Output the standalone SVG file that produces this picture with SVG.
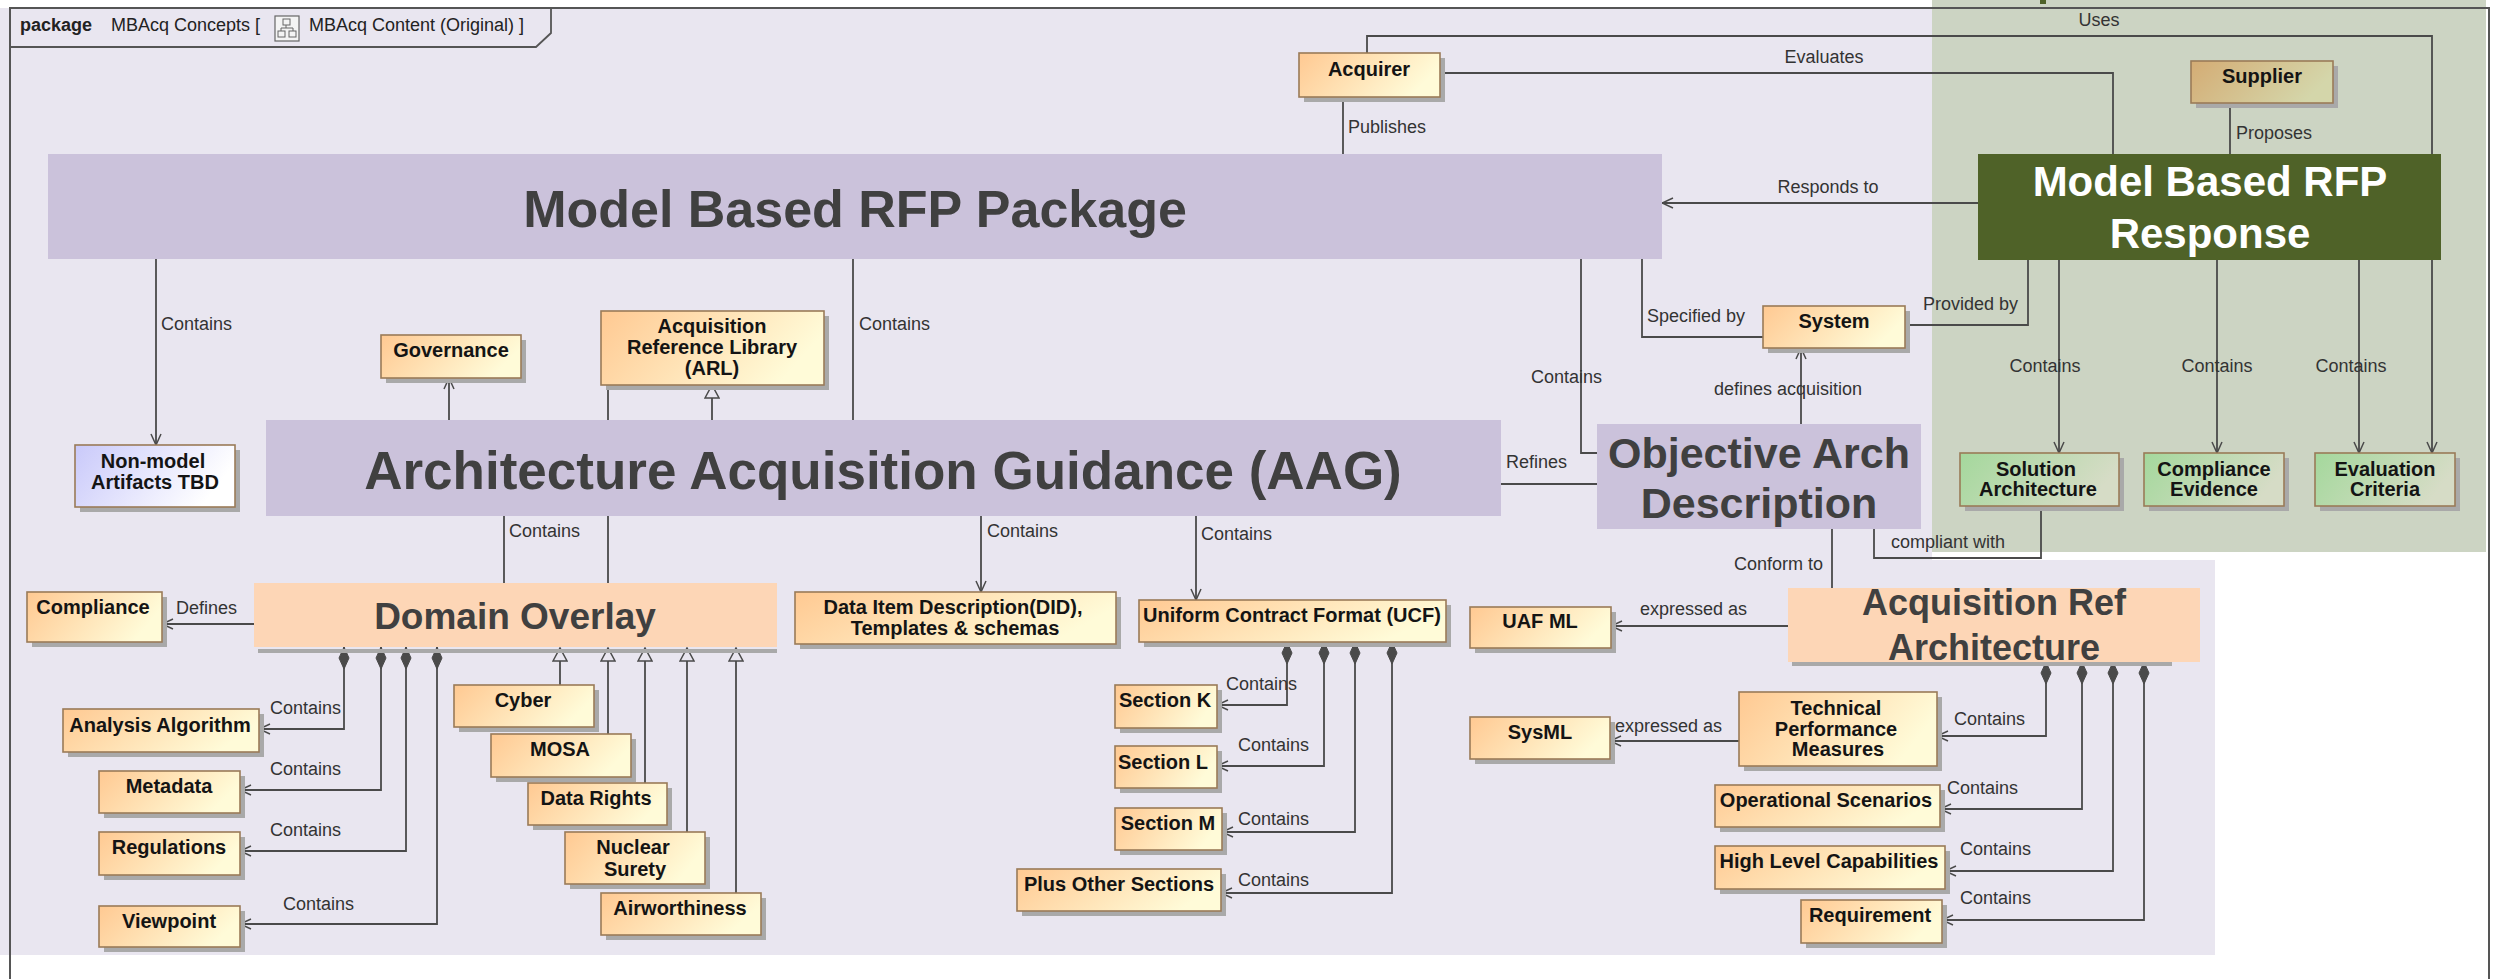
<svg xmlns="http://www.w3.org/2000/svg" width="2493" height="979" viewBox="0 0 2493 979">
<defs>
<linearGradient id="gOr" x1="0" y1="0" x2="1" y2="0.3"><stop offset="0" stop-color="#FFC992"/><stop offset="1" stop-color="#FFFBD8"/></linearGradient>
<linearGradient id="gGr" x1="0" y1="0" x2="1" y2="0.3"><stop offset="0" stop-color="#A4D89C"/><stop offset="1" stop-color="#D6DCC6"/></linearGradient>
<linearGradient id="gSu" x1="0" y1="0" x2="1" y2="0.3"><stop offset="0" stop-color="#D4AC74"/><stop offset="1" stop-color="#D4D6AA"/></linearGradient>
<linearGradient id="gBl" x1="0" y1="0" x2="1" y2="0.3"><stop offset="0" stop-color="#C9C9FA"/><stop offset="1" stop-color="#FFFFFF"/></linearGradient>
<marker id="arr" markerUnits="userSpaceOnUse" viewBox="-1 -6 13 12" refX="11" refY="0" markerWidth="13" markerHeight="12" orient="auto"><path d="M0,-5 L11,0 L0,5" fill="none" stroke="#4A4A4A" stroke-width="1.5"/></marker>
<marker id="tri" markerUnits="userSpaceOnUse" viewBox="-1 -8 15 16" refX="13" refY="0" markerWidth="15" markerHeight="16" orient="auto"><path d="M0,-7 L13,0 L0,7 Z" fill="#E9E6F0" stroke="#4A4A4A" stroke-width="1.5"/></marker>
<marker id="dia" markerUnits="userSpaceOnUse" viewBox="-1 -7 25 14" refX="0" refY="0" markerWidth="25" markerHeight="14" orient="auto"><path d="M0,0 L11,-5 L22,0 L11,5 Z" fill="#4A4A4A" stroke="#4A4A4A" stroke-width="1"/></marker>
</defs>
<style>
.edge{fill:none;stroke:#4A4A4A;stroke-width:1.8}
.sh{fill:#A9A9A9}
.bx{stroke:#9A7B58;stroke-width:1.6}
.nt{font-family:"Liberation Sans",Arial,sans-serif;font-weight:bold;font-size:20px;fill:#141414;text-anchor:middle}
.lbl{font-family:"Liberation Sans",Arial,sans-serif;font-size:18px;fill:#333}
.big{font-family:"Liberation Sans",Arial,sans-serif;font-weight:bold;fill:#404040;text-anchor:middle}
.hdr{font-family:"Liberation Sans",Arial,sans-serif;font-size:18px;fill:#222}
</style>
<rect x="0" y="0" width="2493" height="979" fill="#FFFFFF"/>
<g id="backgrounds">
<rect x="0" y="8" width="1932" height="947" fill="#E9E6F0"/>
<rect x="1932" y="560" width="283" height="395" fill="#E9E6F0"/>
<rect x="1932" y="0" width="554" height="552" fill="#CCD4C3"/>
<rect x="2040" y="0" width="6" height="4" fill="#4F6228"/>
</g>
<g id="frame">
<rect x="10" y="8" width="2479" height="1000" fill="none" stroke="#555" stroke-width="2"/>
<path d="M10,47 H536 L551,33 V8" fill="none" stroke="#555" stroke-width="1.8"/>
<text x="20" y="31" class="hdr" font-weight="bold">package</text>
<text x="111" y="31" class="hdr">MBAcq Concepts [</text>
<rect x="275" y="16" width="24" height="25" fill="#F4F4F4" stroke="#666" stroke-width="1.2"/>
<rect x="283" y="19" width="7" height="6" fill="none" stroke="#666" stroke-width="1"/>
<rect x="278" y="31" width="7" height="6" fill="none" stroke="#666" stroke-width="1"/>
<rect x="289" y="31" width="7" height="6" fill="none" stroke="#666" stroke-width="1"/>
<path d="M286,25 V28 M281,28 H293 M281,28 V31 M293,28 V31" stroke="#666" stroke-width="1" fill="none"/>
<text x="309" y="31" class="hdr">MBAcq Content (Original) ]</text>
</g>
<g id="connectors">
<path class="edge" d="M1343,97 V154"/>
<path class="edge" d="M1367,53 V36 H2432 V453" marker-end="url(#arr)"/>
<path class="edge" d="M1440,73 H2113 V154"/>
<path class="edge" d="M2230,103 V154"/>
<path class="edge" d="M1978,203 H1662" marker-end="url(#arr)"/>
<path class="edge" d="M1642,259 V337 H1763"/>
<path class="edge" d="M2028,260 V325 H1905"/>
<path class="edge" d="M1801,424 V348" marker-end="url(#arr)"/>
<path class="edge" d="M1581,259 V453 H1597"/>
<path class="edge" d="M1501,484 H1597"/>
<path class="edge" d="M1832,529 V588"/>
<path class="edge" d="M2041,506 V558 H1874 V529"/>
<path class="edge" d="M2059,260 V453" marker-end="url(#arr)"/>
<path class="edge" d="M2217,260 V453" marker-end="url(#arr)"/>
<path class="edge" d="M2359,260 V453" marker-end="url(#arr)"/>
<path class="edge" d="M156,259 V445" marker-end="url(#arr)"/>
<path class="edge" d="M853,259 V420"/>
<path class="edge" d="M449,420 V378" marker-end="url(#arr)"/>
<path class="edge" d="M712,420 V385" marker-end="url(#tri)"/>
<path class="edge" d="M608,385 V420 M608,516 V583"/>
<path class="edge" d="M504,516 V583"/>
<path class="edge" d="M981,516 V592" marker-end="url(#arr)"/>
<path class="edge" d="M1196,516 V600" marker-end="url(#arr)"/>
<path class="edge" d="M254,624 H162" marker-end="url(#arr)"/>
<path class="edge" d="M344,647 V729 H259" marker-start="url(#dia)" marker-end="url(#arr)"/>
<path class="edge" d="M381,647 V790 H240" marker-start="url(#dia)" marker-end="url(#arr)"/>
<path class="edge" d="M406,647 V851 H240" marker-start="url(#dia)" marker-end="url(#arr)"/>
<path class="edge" d="M437,647 V924 H240" marker-start="url(#dia)" marker-end="url(#arr)"/>
<path class="edge" d="M560,685 V648" marker-end="url(#tri)"/>
<path class="edge" d="M608,734 V648" marker-end="url(#tri)"/>
<path class="edge" d="M645,783 V648" marker-end="url(#tri)"/>
<path class="edge" d="M687,832 V648" marker-end="url(#tri)"/>
<path class="edge" d="M736,893 V648" marker-end="url(#tri)"/>
<path class="edge" d="M1287,642 V705 H1217" marker-start="url(#dia)" marker-end="url(#arr)"/>
<path class="edge" d="M1324,642 V766 H1217" marker-start="url(#dia)" marker-end="url(#arr)"/>
<path class="edge" d="M1355,642 V832 H1222" marker-start="url(#dia)" marker-end="url(#arr)"/>
<path class="edge" d="M1392,642 V893 H1221" marker-start="url(#dia)" marker-end="url(#arr)"/>
<path class="edge" d="M1788,626 H1611" marker-end="url(#arr)"/>
<path class="edge" d="M1739,741 H1610" marker-end="url(#arr)"/>
<path class="edge" d="M2046,662 V736 H1937" marker-start="url(#dia)" marker-end="url(#arr)"/>
<path class="edge" d="M2082,662 V809 H1940" marker-start="url(#dia)" marker-end="url(#arr)"/>
<path class="edge" d="M2113,662 V871 H1945" marker-start="url(#dia)" marker-end="url(#arr)"/>
<path class="edge" d="M2144,662 V920 H1942" marker-start="url(#dia)" marker-end="url(#arr)"/>
<text class="lbl" x="1348" y="133">Publishes</text>
<text class="lbl" x="2099" y="26" text-anchor="middle">Uses</text>
<text class="lbl" x="1824" y="63" text-anchor="middle">Evaluates</text>
<text class="lbl" x="2236" y="139">Proposes</text>
<text class="lbl" x="1828" y="193" text-anchor="middle">Responds to</text>
<text class="lbl" x="1647" y="322">Specified by</text>
<text class="lbl" x="1923" y="310">Provided by</text>
<text class="lbl" x="1714" y="395">defines acquisition</text>
<text class="lbl" x="1531" y="383">Contains</text>
<text class="lbl" x="1506" y="468">Refines</text>
<text class="lbl" x="1734" y="570">Conform to</text>
<text class="lbl" x="1891" y="548">compliant with</text>
<text class="lbl" x="2045" y="372" text-anchor="middle">Contains</text>
<text class="lbl" x="2217" y="372" text-anchor="middle">Contains</text>
<text class="lbl" x="2351" y="372" text-anchor="middle">Contains</text>
<text class="lbl" x="161" y="330">Contains</text>
<text class="lbl" x="859" y="330">Contains</text>
<text class="lbl" x="509" y="537">Contains</text>
<text class="lbl" x="987" y="537">Contains</text>
<text class="lbl" x="1201" y="540">Contains</text>
<text class="lbl" x="176" y="614">Defines</text>
<text class="lbl" x="270" y="714">Contains</text>
<text class="lbl" x="270" y="775">Contains</text>
<text class="lbl" x="270" y="836">Contains</text>
<text class="lbl" x="283" y="910">Contains</text>
<text class="lbl" x="1226" y="690">Contains</text>
<text class="lbl" x="1238" y="751">Contains</text>
<text class="lbl" x="1238" y="825">Contains</text>
<text class="lbl" x="1238" y="886">Contains</text>
<text class="lbl" x="1640" y="615">expressed as</text>
<text class="lbl" x="1615" y="732">expressed as</text>
<text class="lbl" x="1954" y="725">Contains</text>
<text class="lbl" x="1947" y="794">Contains</text>
<text class="lbl" x="1960" y="855">Contains</text>
<text class="lbl" x="1960" y="904">Contains</text>
</g>
<g id="pkg"><rect x="48" y="154" width="1614" height="105" fill="#CBC2DB"/><text class="big" x="855" y="227" font-size="52">Model Based RFP Package</text></g>
<g id="aag"><rect x="266" y="420" width="1235" height="96" fill="#CBC2DB"/><text class="big" x="883" y="489" font-size="53">Architecture Acquisition Guidance (AAG)</text></g>
<g id="oad"><rect x="1597" y="424" width="324" height="105" fill="#CBC2DB"/><text class="big" x="1759" y="468" font-size="43">Objective Arch</text><text class="big" x="1759" y="518" font-size="43">Description</text></g>
<g id="resp"><rect x="1978" y="154" width="463" height="106" fill="#4F6228"/><text class="big" x="2210" y="196" font-size="42" style="fill:#FFFFFF">Model Based RFP</text><text class="big" x="2210" y="248" font-size="42" style="fill:#FFFFFF">Response</text></g>
<g id="overlay"><rect x="258" y="649" width="519" height="4" class="sh"/><rect x="254" y="583" width="523" height="64" fill="#FDD6B6"/><text class="big" x="515" y="629" font-size="37">Domain Overlay</text></g>
<g id="ara"><rect x="1792" y="662" width="380" height="4" class="sh"/><rect x="1788" y="588" width="412" height="74" fill="#FDD6B6"/><text class="big" x="1994" y="615" font-size="36">Acquisition Ref</text><text class="big" x="1994" y="660" font-size="36">Architecture</text></g>
<g id="acquirer"><rect x="1304" y="58" width="141" height="44" class="sh"/><rect x="1299" y="53" width="141" height="44" fill="url(#gOr)" class="bx"/><text class="nt" x="1369" y="76">Acquirer</text></g>
<g id="supplier"><rect x="2196" y="66" width="142" height="42" class="sh"/><rect x="2191" y="61" width="142" height="42" fill="url(#gSu)" class="bx"/><text class="nt" x="2262" y="83">Supplier</text></g>
<g id="system"><rect x="1768" y="311" width="142" height="42" class="sh"/><rect x="1763" y="306" width="142" height="42" fill="url(#gOr)" class="bx"/><text class="nt" x="1834" y="328">System</text></g>
<g id="governance"><rect x="386" y="340" width="140" height="43" class="sh"/><rect x="381" y="335" width="140" height="43" fill="url(#gOr)" class="bx"/><text class="nt" x="451" y="357">Governance</text></g>
<g id="arl"><rect x="606" y="316" width="223" height="74" class="sh"/><rect x="601" y="311" width="223" height="74" fill="url(#gOr)" class="bx"/><text class="nt" x="712" y="333">Acquisition</text><text class="nt" x="712" y="354">Reference Library</text><text class="nt" x="712" y="375">(ARL)</text></g>
<g id="nonmodel"><rect x="80" y="450" width="160" height="62" class="sh"/><rect x="75" y="445" width="160" height="62" fill="url(#gBl)" class="bx"/><text class="nt" x="153" y="468">Non-model</text><text class="nt" x="155" y="489">Artifacts TBD</text></g>
<g id="compliance"><rect x="32" y="597" width="135" height="50" class="sh"/><rect x="27" y="592" width="135" height="50" fill="url(#gOr)" class="bx"/><text class="nt" x="93" y="614">Compliance</text></g>
<g id="analysis"><rect x="68" y="714" width="196" height="43" class="sh"/><rect x="63" y="709" width="196" height="43" fill="url(#gOr)" class="bx"/><text class="nt" x="160" y="732">Analysis Algorithm</text></g>
<g id="metadata"><rect x="104" y="776" width="141" height="42" class="sh"/><rect x="99" y="771" width="141" height="42" fill="url(#gOr)" class="bx"/><text class="nt" x="169" y="793">Metadata</text></g>
<g id="regulations"><rect x="104" y="837" width="141" height="43" class="sh"/><rect x="99" y="832" width="141" height="43" fill="url(#gOr)" class="bx"/><text class="nt" x="169" y="854">Regulations</text></g>
<g id="viewpoint"><rect x="104" y="911" width="141" height="41" class="sh"/><rect x="99" y="906" width="141" height="41" fill="url(#gOr)" class="bx"/><text class="nt" x="169" y="928">Viewpoint</text></g>
<g id="cyber"><rect x="459" y="690" width="140" height="42" class="sh"/><rect x="454" y="685" width="140" height="42" fill="url(#gOr)" class="bx"/><text class="nt" x="523" y="707">Cyber</text></g>
<g id="mosa"><rect x="496" y="739" width="140" height="43" class="sh"/><rect x="491" y="734" width="140" height="43" fill="url(#gOr)" class="bx"/><text class="nt" x="560" y="756">MOSA</text></g>
<g id="datarights"><rect x="533" y="788" width="139" height="42" class="sh"/><rect x="528" y="783" width="139" height="42" fill="url(#gOr)" class="bx"/><text class="nt" x="596" y="805">Data Rights</text></g>
<g id="nuclear"><rect x="570" y="837" width="140" height="52" class="sh"/><rect x="565" y="832" width="140" height="52" fill="url(#gOr)" class="bx"/><text class="nt" x="633" y="854">Nuclear</text><text class="nt" x="635" y="876">Surety</text></g>
<g id="airworthiness"><rect x="606" y="898" width="160" height="42" class="sh"/><rect x="601" y="893" width="160" height="42" fill="url(#gOr)" class="bx"/><text class="nt" x="680" y="915">Airworthiness</text></g>
<g id="did"><rect x="800" y="597" width="321" height="52" class="sh"/><rect x="795" y="592" width="321" height="52" fill="url(#gOr)" class="bx"/><text class="nt" x="953" y="614">Data Item Description(DID),</text><text class="nt" x="955" y="635">Templates &amp; schemas</text></g>
<g id="ucf"><rect x="1144" y="605" width="307" height="42" class="sh"/><rect x="1139" y="600" width="307" height="42" fill="url(#gOr)" class="bx"/><text class="nt" x="1292" y="622">Uniform Contract Format (UCF)</text></g>
<g id="seck"><rect x="1120" y="690" width="102" height="43" class="sh"/><rect x="1115" y="685" width="102" height="43" fill="url(#gOr)" class="bx"/><text class="nt" x="1165" y="707">Section K</text></g>
<g id="secl"><rect x="1120" y="751" width="102" height="42" class="sh"/><rect x="1115" y="746" width="102" height="42" fill="url(#gOr)" class="bx"/><text class="nt" x="1163" y="769">Section L</text></g>
<g id="secm"><rect x="1120" y="813" width="107" height="42" class="sh"/><rect x="1115" y="808" width="107" height="42" fill="url(#gOr)" class="bx"/><text class="nt" x="1168" y="830">Section M</text></g>
<g id="plusother"><rect x="1022" y="874" width="204" height="42" class="sh"/><rect x="1017" y="869" width="204" height="42" fill="url(#gOr)" class="bx"/><text class="nt" x="1119" y="891">Plus Other Sections</text></g>
<g id="uafml"><rect x="1475" y="612" width="141" height="41" class="sh"/><rect x="1470" y="607" width="141" height="41" fill="url(#gOr)" class="bx"/><text class="nt" x="1540" y="628">UAF ML</text></g>
<g id="sysml"><rect x="1475" y="722" width="140" height="42" class="sh"/><rect x="1470" y="717" width="140" height="42" fill="url(#gOr)" class="bx"/><text class="nt" x="1540" y="739">SysML</text></g>
<g id="tpm"><rect x="1744" y="697" width="198" height="74" class="sh"/><rect x="1739" y="692" width="198" height="74" fill="url(#gOr)" class="bx"/><text class="nt" x="1836" y="715">Technical</text><text class="nt" x="1836" y="736">Performance</text><text class="nt" x="1838" y="756">Measures</text></g>
<g id="opscen"><rect x="1720" y="790" width="225" height="42" class="sh"/><rect x="1715" y="785" width="225" height="42" fill="url(#gOr)" class="bx"/><text class="nt" x="1826" y="807">Operational Scenarios</text></g>
<g id="hlc"><rect x="1720" y="851" width="230" height="43" class="sh"/><rect x="1715" y="846" width="230" height="43" fill="url(#gOr)" class="bx"/><text class="nt" x="1829" y="868">High Level Capabilities</text></g>
<g id="requirement"><rect x="1806" y="905" width="141" height="43" class="sh"/><rect x="1801" y="900" width="141" height="43" fill="url(#gOr)" class="bx"/><text class="nt" x="1870" y="922">Requirement</text></g>
<g id="solarch"><rect x="1965" y="458" width="159" height="53" class="sh"/><rect x="1960" y="453" width="159" height="53" fill="url(#gGr)" class="bx"/><text class="nt" x="2036" y="476">Solution</text><text class="nt" x="2038" y="496">Architecture</text></g>
<g id="compev"><rect x="2149" y="458" width="140" height="53" class="sh"/><rect x="2144" y="453" width="140" height="53" fill="url(#gGr)" class="bx"/><text class="nt" x="2214" y="476">Compliance</text><text class="nt" x="2214" y="496">Evidence</text></g>
<g id="evalcrit"><rect x="2320" y="458" width="140" height="53" class="sh"/><rect x="2315" y="453" width="140" height="53" fill="url(#gGr)" class="bx"/><text class="nt" x="2385" y="476">Evaluation</text><text class="nt" x="2385" y="496">Criteria</text></g>
</svg>
